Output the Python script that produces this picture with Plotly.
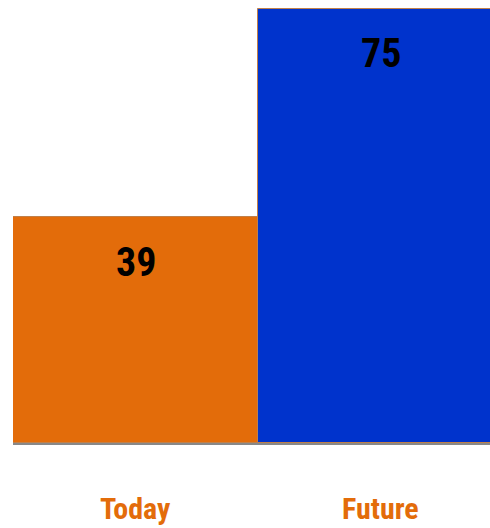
import plotly.graph_objects as go

categories = ["Today", "Future"]
values = [39, 75]
bar_colors = ["#E36C0A", "#0033CC"]
label_color = "#E36C0A"

FONT = "Roboto Condensed, Liberation Sans Narrow, DejaVu Sans Condensed, sans-serif"

fig = go.Figure()
fig.add_trace(go.Bar(
    x=[0, 1], y=values,
    marker=dict(color=bar_colors, line=dict(color="#C0804A", width=1)),
    width=1,
    hoverinfo="skip",
))

for i, (c, v) in enumerate(zip(categories, values)):
    fig.add_annotation(x=i, y=v, xref="x", yref="y", text=str(v),
                       showarrow=False, yanchor="middle", yshift=-45,
                       font=dict(family=FONT, size=40, color="black", weight="bold"))
    fig.add_annotation(x=i, y=-0.147, xref="x", yref="paper", text=c,
                       showarrow=False, yanchor="middle",
                       font=dict(family=FONT, size=30, color=label_color, weight="bold"))

fig.update_layout(
    width=490, height=528,
    margin=dict(l=13, r=0, t=0, b=85),
    paper_bgcolor="white", plot_bgcolor="white",
    bargap=0, showlegend=False,
    xaxis=dict(range=[-0.5, -0.5 + 477 / 245], showticklabels=False, ticks="",
               showgrid=False, zeroline=False, showline=True,
               linecolor="#888888", linewidth=2, fixedrange=True),
    yaxis=dict(range=[0, 76.55], visible=False, showgrid=False, zeroline=False,
               fixedrange=True),
)

fig.write_html("out.html", config={"displayModeBar": False})
